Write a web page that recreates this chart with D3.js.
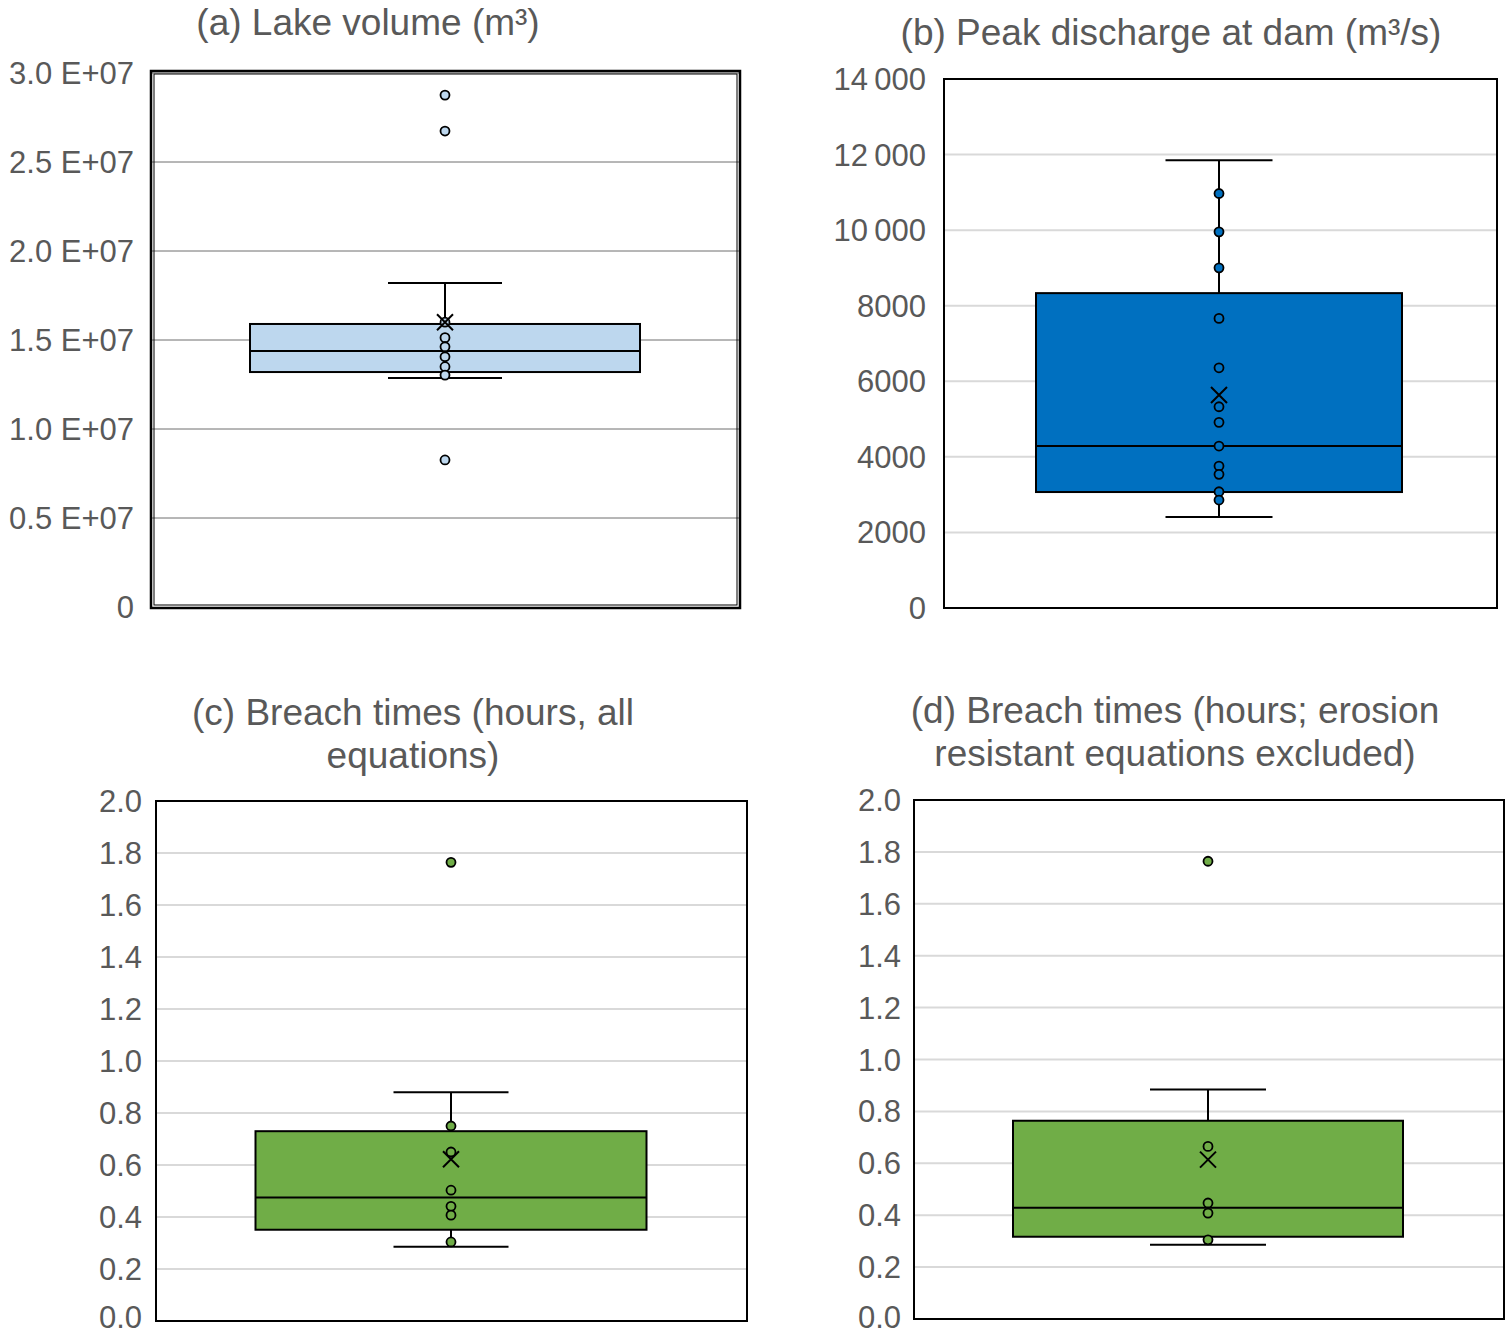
<!DOCTYPE html>
<html>
<head>
<meta charset="utf-8">
<script src="https://cdn.jsdelivr.net/npm/d3@7"></script>
<style>
	body { margin: 0; background: #fff; }
	text { font-family: Arial, "Liberation Sans", sans-serif; fill: #595959; }
</style>
</head>
<body>
<svg width="1512" height="1336"></svg>
<script>
// panel titles
const titlesA = ['(a) Lake volume (m³)']
const titlesB = ['(b) Peak discharge at dam (m³/s)']
const titlesC = ['(c) Breach times (hours, all', 'equations)']
const titlesD = ['(d) Breach times (hours; erosion', 'resistant equations excluded)']

// box stats: [lower whisker, q1, median, q3, upper whisker], mean
const statsA = [1.287e7, 1.32e7, 1.438e7, 1.59e7, 1.82e7]
const meanA = 1.60e7
const pointsA = [1.60e7, 1.513e7, 1.462e7, 1.406e7, 1.35e7, 1.303e7]
const outliersA = [2.876e7, 2.674e7, 0.826e7]
const ticksA = [0, 0.5e7, 1e7, 1.5e7, 2e7, 2.5e7, 3e7]

const statsB = [2407, 3069, 4286, 8333, 11852]
const meanB = 5635
const pointsB = [10970, 9955, 9003, 7664, 6357, 5326, 4913, 4286, 3757, 3537, 3077, 2857]
const outliersB = []
const ticksB = [0, 2000, 4000, 6000, 8000, 10000, 12000, 14000]

const statsC = [0.286, 0.351, 0.475, 0.73, 0.88]
const meanC = 0.622
const pointsC = [0.75, 0.65, 0.503, 0.441, 0.407, 0.304]
const outliersC = [1.764]
const ticksC = [0, 0.2, 0.4, 0.6, 0.8, 1.0, 1.2, 1.4, 1.6, 1.8, 2.0]

const statsD = [0.286, 0.317, 0.429, 0.764, 0.884]
const meanD = 0.614
const pointsD = [0.665, 0.447, 0.408, 0.305]
const outliersD = [1.764]
const ticksD = ticksC

const svg = d3.select('svg')
const H = 1336

function fmtA(d) {
	if (d === 0) return '0'
	return (d / 1e7).toFixed(1) + ' E+07'
}
function fmtB(d) {
	if (d >= 10000) return String(Math.floor(d / 1000)) + '\u2009' + String(d % 1000).padStart(3, '0')
	return String(d)
}
function fmtC(d) {
	return d.toFixed(1)
}

function drawPanel(p) {
	const g = svg.append('g')
	const y = d3.scaleLinear().domain([0, p.max]).range([p.y1, p.y0])

	// gridlines
	g.selectAll('.grid')
		.data(p.ticks.filter(t => t > 0))
		.enter()
		.append('line')
		.attr('x1', p.x0)
		.attr('x2', p.x1)
		.attr('y1', d => y(d))
		.attr('y2', d => y(d))
		.attr('stroke', p.gridColor)
		.attr('stroke-width', p.gridWidth)

	// tick labels (baseline kept inside the page)
	g.selectAll('.tick')
		.data(p.ticks)
		.enter()
		.append('text')
		.attr('x', p.labelX)
		.attr('y', d => Math.min(y(d) + 11, H - 8))
		.attr('text-anchor', 'end')
		.style('font-size', '31px')
		.text(p.fmt)

	// title
	p.title.forEach((t, i) => {
		g.append('text')
			.attr('x', p.titleX)
			.attr('y', p.titleY + i * 43)
			.attr('text-anchor', 'middle')
			.style('font-size', '37px')
			.text(t)
	})

	const s = p.stats
	const cx = p.cx
	// whiskers
	g.append('line').attr('x1', cx).attr('x2', cx).attr('y1', y(s[4])).attr('y2', y(s[3]))
		.attr('stroke', '#000').attr('stroke-width', 2)
	g.append('line').attr('x1', cx).attr('x2', cx).attr('y1', y(s[1])).attr('y2', y(s[0]))
		.attr('stroke', '#000').attr('stroke-width', 2)
	;[s[0], s[4]].forEach(v => {
		g.append('line').attr('x1', cx - p.capW / 2).attr('x2', cx + p.capW / 2)
			.attr('y1', y(v)).attr('y2', y(v))
			.attr('stroke', '#000').attr('stroke-width', 2)
	})
	// box
	g.append('rect')
		.attr('x', cx - p.boxW / 2)
		.attr('width', p.boxW)
		.attr('y', y(s[3]))
		.attr('height', y(s[1]) - y(s[3]))
		.attr('fill', p.color)
		.attr('stroke', '#000')
		.attr('stroke-width', 2)
	g.append('line').attr('x1', cx - p.boxW / 2).attr('x2', cx + p.boxW / 2)
		.attr('y1', y(s[2])).attr('y2', y(s[2]))
		.attr('stroke', '#000').attr('stroke-width', 2)

	// points
	g.selectAll('.pt')
		.data(p.points.concat(p.outliers))
		.enter()
		.append('circle')
		.attr('cx', cx)
		.attr('cy', d => y(d))
		.attr('r', 4.5)
		.attr('fill', p.color)
		.attr('stroke', '#000')
		.attr('stroke-width', 1.8)

	// mean marker
	const m = y(p.mean), k = 8
	g.append('path')
		.attr('d', `M${cx - k},${m - k}L${cx + k},${m + k}M${cx - k},${m + k}L${cx + k},${m - k}`)
		.attr('stroke', '#000')
		.attr('stroke-width', 2)

	// frame
	if (p.double) {
		g.append('rect').attr('x', p.x0).attr('y', p.y0 - 2).attr('width', p.x1 - p.x0).attr('height', p.y1 - p.y0 + 3)
			.attr('fill', 'none').attr('stroke', '#000').attr('stroke-width', 2.5)
		g.append('rect').attr('x', p.x0 + 3).attr('y', p.y0 + 1).attr('width', p.x1 - p.x0 - 6).attr('height', p.y1 - p.y0 - 3)
			.attr('fill', 'none').attr('stroke', '#000').attr('stroke-width', 1)
	} else {
		g.append('rect').attr('x', p.x0).attr('y', p.y0).attr('width', p.x1 - p.x0).attr('height', p.y1 - p.y0)
			.attr('fill', 'none').attr('stroke', '#000').attr('stroke-width', 2)
	}
}

drawPanel({
	title: titlesA, titleX: 368, titleY: 35,
	x0: 151, x1: 740, y0: 73, y1: 607, max: 3e7,
	ticks: ticksA, fmt: fmtA, labelX: 134,
	gridColor: '#6e6e6e', gridWidth: 1,
	stats: statsA, mean: meanA, points: pointsA, outliers: outliersA,
	cx: 445, boxW: 390, capW: 114, color: '#bdd7ee', double: true
})

drawPanel({
	title: titlesB, titleX: 1171, titleY: 45,
	x0: 944, x1: 1497, y0: 79, y1: 608, max: 14000,
	ticks: ticksB, fmt: fmtB, labelX: 926,
	gridColor: '#d9d9d9', gridWidth: 2,
	stats: statsB, mean: meanB, points: pointsB, outliers: outliersB,
	cx: 1219, boxW: 366, capW: 107, color: '#0070c0', double: false
})

drawPanel({
	title: titlesC, titleX: 413, titleY: 725,
	x0: 156, x1: 747, y0: 801, y1: 1321, max: 2.0,
	ticks: ticksC, fmt: fmtC, labelX: 142,
	gridColor: '#d9d9d9', gridWidth: 2,
	stats: statsC, mean: meanC, points: pointsC, outliers: outliersC,
	cx: 451, boxW: 391, capW: 115, color: '#70ad47', double: false
})

drawPanel({
	title: titlesD, titleX: 1175, titleY: 723,
	x0: 914, x1: 1504, y0: 800, y1: 1319, max: 2.0,
	ticks: ticksD, fmt: fmtC, labelX: 901,
	gridColor: '#d9d9d9', gridWidth: 2,
	stats: statsD, mean: meanD, points: pointsD, outliers: outliersD,
	cx: 1208, boxW: 390, capW: 116, color: '#70ad47', double: false
})
</script>
</body>
</html>
